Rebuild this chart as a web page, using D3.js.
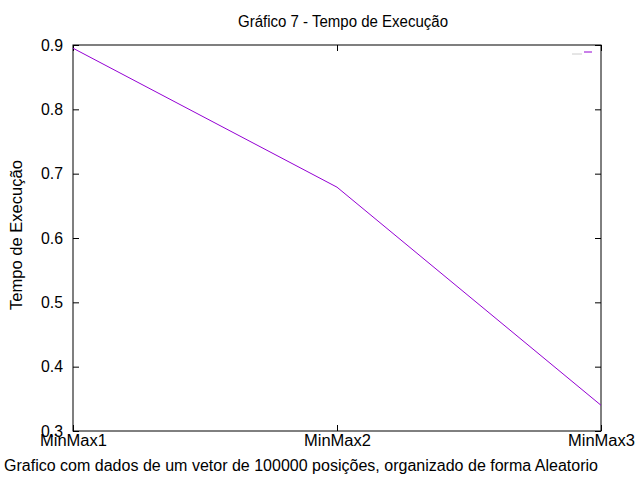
<!DOCTYPE html>
<html>
<head>
<meta charset="utf-8">
<script src="https://cdn.jsdelivr.net/npm/d3@7"></script>
<style>
  body { margin: 0; background: #fff; }
  text { font-family: "Liberation Sans", Arial, sans-serif; fill: #000; }
</style>
</head>
<body>
<div id="canvas"></div>
<script>
const categories = ["MinMax1", "MinMax2", "MinMax3"];
const tempos = [0.895, 0.679, 0.340];
const yTicks = [0.3, 0.4, 0.5, 0.6, 0.7, 0.8, 0.9];

const width = 640;
const height = 480;
const margin = { top: 45, left: 73, bottom: 49, right: 39 };
const iwidth = width - margin.left - margin.right;
const iheight = height - margin.top - margin.bottom;

const svg = d3.select("#canvas").append("svg")
  .attr("width", width)
  .attr("height", height);

const g = svg.append("g")
  .attr("transform", `translate(${margin.left},${margin.top})`);

const x = d3.scalePoint().domain(categories).range([0, iwidth]);
const y = d3.scaleLinear().domain([0.3, 0.9]).range([iheight, 0]);

// ticks pointing inward, mirrored on opposite side (gnuplot style)
const yl = g.append("g").call(d3.axisLeft(y).tickValues(yTicks).tickFormat(d3.format(".1f")).tickSizeInner(-6).tickSizeOuter(0).tickPadding(10));
const yr = g.append("g").attr("transform", `translate(${iwidth},0)`)
  .call(d3.axisRight(y).tickValues(yTicks).tickSizeInner(-6).tickSizeOuter(0).tickFormat(""));
const xb = g.append("g").attr("transform", `translate(0,${iheight})`)
  .call(d3.axisBottom(x).tickSizeInner(-6).tickSizeOuter(0).tickPadding(3));
const xt = g.append("g")
  .call(d3.axisTop(x).tickSizeInner(-6).tickSizeOuter(0).tickFormat(""));

[yl, yr, xb, xt].forEach((a) => {
  a.select(".domain").remove();
  a.selectAll("line").attr("stroke", "#000");
  a.selectAll("text").style("font-size", "16px").attr("fill", "#000")
    .attr("lengthAdjust", "spacingAndGlyphs");
});
yl.selectAll("text").attr("textLength", 22);
xb.selectAll("text").attr("textLength", 67).attr("dy", "0.72em");

g.append("rect")
  .attr("width", iwidth).attr("height", iheight)
  .attr("fill", "none").attr("stroke", "#000").attr("stroke-width", 1);

const line = d3.line().x((d, i) => x(categories[i])).y((d) => y(d));
g.append("path")
  .datum(tempos)
  .attr("fill", "none")
  .attr("stroke", "#9400d3")
  .attr("stroke-width", 1)
  .attr("d", line);

// legend key
g.append("line")
  .attr("x1", iwidth - 17).attr("x2", iwidth - 9)
  .attr("y1", 7).attr("y2", 7)
  .attr("stroke", "#9400d3").attr("stroke-width", 1);
g.append("line")
  .attr("x1", iwidth - 29).attr("x2", iwidth - 19)
  .attr("y1", 9).attr("y2", 9)
  .attr("stroke", "#ccc").attr("stroke-width", 1);

svg.append("text")
  .attr("x", 343).attr("y", 27)
  .attr("text-anchor", "middle")
  .style("font-size", "16px")
  .attr("textLength", 210).attr("lengthAdjust", "spacingAndGlyphs")
  .text("Gráfico 7 - Tempo de Execução");

svg.append("text")
  .attr("transform", `translate(22,235) rotate(-90)`)
  .attr("text-anchor", "middle")
  .style("font-size", "16px")
  .attr("textLength", 150).attr("lengthAdjust", "spacingAndGlyphs")
  .text("Tempo de Execução");

svg.append("text")
  .attr("x", 301).attr("y", 471)
  .attr("text-anchor", "middle")
  .style("font-size", "16px")
  .attr("textLength", 594).attr("lengthAdjust", "spacingAndGlyphs")
  .text("Grafico com dados de um vetor de 100000 posições, organizado de forma Aleatorio");
</script>
</body>
</html>
